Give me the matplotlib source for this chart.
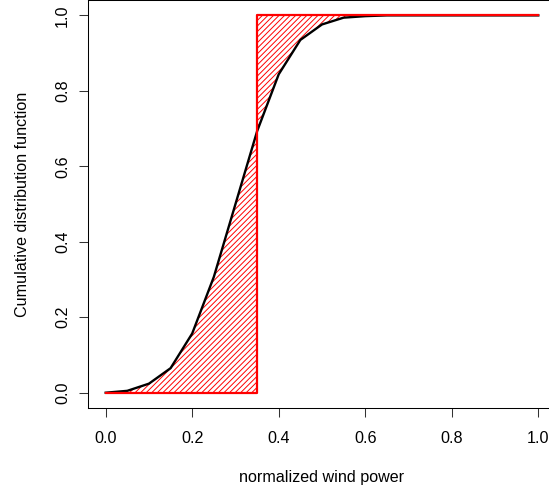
import numpy as np
import matplotlib
matplotlib.use("Agg")
import matplotlib.pyplot as plt

wind_power = [0.0, 0.05, 0.1, 0.15, 0.2, 0.25, 0.3, 0.35, 0.4, 0.45, 0.5,
              0.55, 0.6, 0.65, 0.7, 0.75, 0.8, 0.85, 0.9, 0.95, 1.0]
cdf_values = [0.0, 0.005, 0.024, 0.065, 0.157, 0.307, 0.50, 0.693, 0.844, 0.935, 0.976,
              0.994, 0.998, 1.0, 1.0, 1.0, 1.0, 1.0, 1.0, 1.0, 1.0]
# point forecast shown as a step CDF
forecast = 0.35
step_x = [0.0, forecast, forecast, 1.0]
step_y = [0.0, 0.0, 1.0, 1.0]
x_ticks = [0.0, 0.2, 0.4, 0.6, 0.8, 1.0]
y_ticks = [0.0, 0.2, 0.4, 0.6, 0.8, 1.0]

plt.rcParams["font.family"] = ["Liberation Sans", "DejaVu Sans"]
plt.rcParams["font.size"] = 11.6
plt.rcParams["hatch.linewidth"] = 0.7

fig = plt.figure(figsize=(5.49, 4.94), dpi=100)
ax = fig.add_axes([0.1610, 0.17449, 0.8510, 0.8249])

x = np.array(wind_power)
cdf = np.array(cdf_values)
left = x <= forecast
right = x >= forecast
ax.fill_between(x[left], 0, cdf[left], facecolor="none", edgecolor="red", linewidth=0, hatch="//////")
ax.fill_between(x[right], cdf[right], 1, facecolor="none", edgecolor="red", linewidth=0, hatch="//////")

ax.plot(x, cdf, color="black", linewidth=1.7, solid_joinstyle="round")
ax.plot(step_x, step_y, color="red", linewidth=1.6)

ax.set_xlim(-0.04, 1.04)
ax.set_ylim(-0.04, 1.04)
ax.set_xticks(x_ticks)
ax.set_yticks(y_ticks)
ax.set_xticklabels([f"{t:.1f}" for t in x_ticks])
ax.set_yticklabels([f"{t:.1f}" for t in y_ticks])
ax.tick_params(axis="both", direction="out", length=6.8, width=0.75, color="#333333")
ax.tick_params(axis="x", pad=9.8)
ax.tick_params(axis="y", pad=6.3, labelrotation=90)
for lab in ax.get_yticklabels():
    lab.set_va("center")

for s in ax.spines.values():
    s.set_linewidth(0.75)
    s.set_color("black")

ax.set_xlabel("normalized wind power")
ax.set_ylabel("Cumulative distribution function")
ax.xaxis.set_label_coords(0.5, -0.152)
ax.yaxis.set_label_coords(-0.1256, 0.5)

fig.savefig("out.png", dpi=100)
